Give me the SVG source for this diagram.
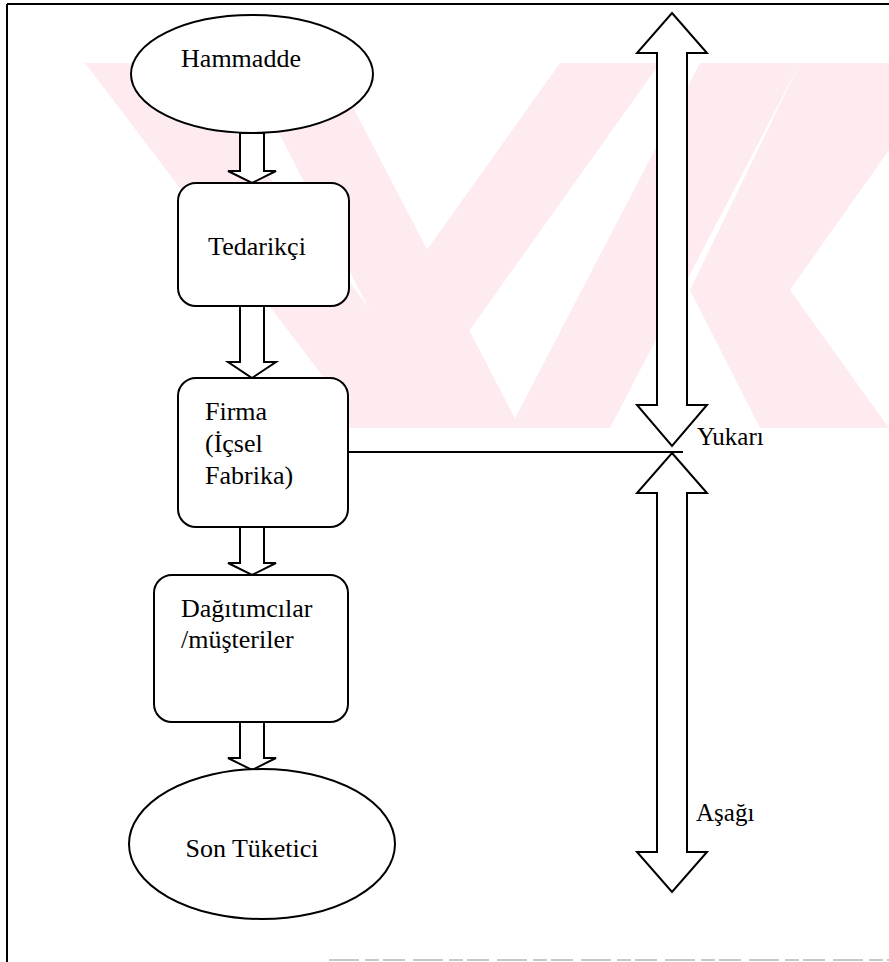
<svg xmlns="http://www.w3.org/2000/svg" width="889" height="962" viewBox="0 0 889 962">
  <style>
    .frame { fill: none; stroke: #000; stroke-width: 2; }
    .shape { fill: #fff; stroke: #000; stroke-width: 2; }
    .arrow { fill: #fff; stroke: #000; stroke-width: 2; stroke-linejoin: miter; }
    .side  { fill: none; stroke: #000; stroke-width: 2; stroke-linejoin: miter; }
    .label { font-family: "Liberation Serif", "Times New Roman", serif; font-size: 26px; fill: #000; }
    .tag   { font-family: "Liberation Serif", "Times New Roman", serif; font-size: 25px; fill: #000; }
    .mark  { fill: #fdebef; }
  </style>
  <defs>
    <clipPath id="markBand">
      <rect x="8" y="63" width="881" height="365"/>
    </clipPath>
  </defs>

  <rect width="889" height="962" fill="#fff"/>

  <!-- pale background mark -->
  <g id="watermark" clip-path="url(#markBand)">
    <polygon class="mark" points="85,63 183,63 460,428 362,428"/>
    <polygon class="mark" points="243,63 330,63 520,428 430,428"/>
    <polygon class="mark" points="560,63 660,63 400,428 300,428"/>
    <polygon class="mark" points="700,63 800,63 610,428 510,428"/>
    <polygon class="mark" points="889,63 889,150 790,290 889,428 889,428 760,428 690,290 800,63"/>
  </g>

  <!-- outer frame -->
  <g id="frame">
    <line class="frame" x1="7" y1="4" x2="889" y2="4"/>
    <line class="frame" x1="7" y1="4" x2="7" y2="962"/>
    <line x1="329" y1="960" x2="889" y2="960" stroke="#c8c8c8" stroke-width="2" stroke-dasharray="30 6 14 4 22 8"/>
  </g>

  <!-- flow arrows and link -->
  <g id="connectors">
    <polygon class="arrow" points="240,133 264,133 264,171 276,171 252,183 228,171 240,171"/>
    <polygon class="arrow" points="240,306 264,306 264,362 276,362 252,378 228,362 240,362"/>
    <polygon class="arrow" points="240,527 264,527 264,563 276,563 252,575 228,563 240,563"/>
    <polygon class="arrow" points="240,722 264,722 264,758 276,758 252,770 228,758 240,758"/>
    <line class="side" x1="348" y1="452" x2="683" y2="452"/>
    <!-- upstream double arrow -->
    <polygon class="arrow" points="672,13 707,53 687,53 687,405 707,405 672,446 637,405 657,405 657,53 637,53"/>
    <!-- downstream double arrow -->
    <polygon class="arrow" points="672,453 707,493 687,493 687,852 707,852 672,892 637,852 657,852 657,493 637,493"/>
  </g>

  <g id="hammadde">
    <ellipse class="shape" cx="252" cy="74" rx="121" ry="59"/>
    <text class="label" x="241" y="67" text-anchor="middle">Hammadde</text>
  </g>

  <g id="tedarikci">
    <rect class="shape" x="178" y="183" width="171" height="123" rx="18" ry="18"/>
    <text class="label" x="257" y="255" text-anchor="middle">Tedarikçi</text>
  </g>

  <g id="firma">
    <rect class="shape" x="178" y="378" width="170" height="149" rx="18" ry="18"/>
    <text class="label" x="205" y="420">Firma</text>
    <text class="label" x="205" y="452">(İçsel</text>
    <text class="label" x="205" y="484">Fabrika)</text>
  </g>

  <g id="dagitimcilar">
    <rect class="shape" x="154" y="575" width="194" height="147" rx="18" ry="18"/>
    <text class="label" x="181" y="617">Dağıtımcılar</text>
    <text class="label" x="181" y="648">/müşteriler</text>
  </g>

  <g id="son-tuketici">
    <ellipse class="shape" cx="262" cy="844" rx="133" ry="75"/>
    <text class="label" x="252" y="857" text-anchor="middle">Son Tüketici</text>
  </g>

  <g id="labels">
    <text class="tag" x="697" y="445">Yukarı</text>
    <text class="tag" x="696" y="821">Aşağı</text>
  </g>
</svg>
